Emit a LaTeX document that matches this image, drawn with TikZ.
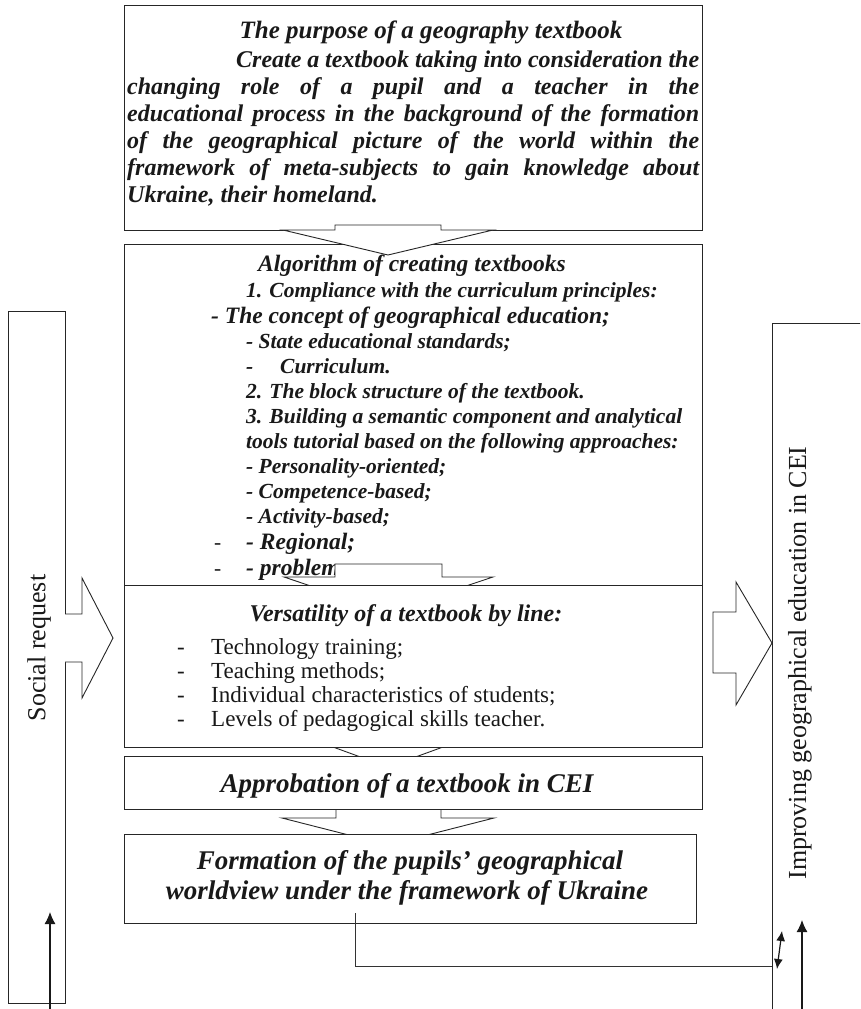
\documentclass[tikz,border=0pt]{standalone}
\usepackage{fontspec}
\setmainfont{Liberation Serif}
\usetikzlibrary{arrows.meta}
\begin{document}
\begin{tikzpicture}[x=1pt,y=-1pt,
  box/.style={draw=black!85, line width=1.3pt, fill=white, inner sep=0pt, anchor=north west},
  blk/.style={draw=black!85, line width=0.9pt, fill=white, line join=miter},
  thinline/.style={draw=black!80, line width=0.8pt},
  tx/.style={inner sep=0pt, anchor=base west, text=black!90},
  tc/.style={inner sep=0pt, anchor=base, text=black!90},
  bi/.style={font=\bfseries\itshape\fontsize{#1}{#1}\selectfont},
  rg/.style={font=\fontsize{#1}{#1}\selectfont},
  side/.style={inner sep=0pt, rotate=90, text=black!90, font=\fontsize{26}{26}\selectfont},
  tip/.style={line width=1.2pt, draw=black!90}]
\clip (0,0) rectangle (860,1009);

% boxes
\node[box, minimum width=578pt, minimum height=225pt] (purpose) at (124,5) {};
\node[box, minimum width=578pt, minimum height=341pt] (alg) at (124,244) {};
\node[box, minimum width=57pt, minimum height=692pt] (social) at (8,311) {};
\node[box, minimum width=120pt, minimum height=720pt] (improve) at (772,323) {};

% purpose text
\node[tc, bi=25] (ptitle) at (431,38) {The purpose of a geography textbook};
\node[tx, bi=24] (p1) at (236,67) {\makebox[463pt][s]{Create a textbook taking into consideration the}};
\node[tx, bi=24] (p2) at (127,94) {\makebox[572pt][s]{changing role of a pupil and a teacher in the}};
\node[tx, bi=24] (p3) at (127,121) {\makebox[572pt][s]{educational process in the background of the formation}};
\node[tx, bi=24] (p4) at (127,148) {\makebox[572pt][s]{of the geographical picture of the world within the}};
\node[tx, bi=24] (p5) at (127,175) {\makebox[572pt][s]{framework of meta-subjects to gain knowledge about}};
\node[tx, bi=24] (p6) at (127,202) {Ukraine, their homeland.};

% algorithm text
\node[tx, bi=23.5] (a0) at (258,271) {Algorithm of creating textbooks};
\node[tx, bi=21.5] (a1) at (246,297) {1. Compliance with the curriculum principles:};
\node[tx, bi=23.5] (a2) at (211,323) {- The concept of geographical education;};
\node[tx, bi=21.5] (a3) at (246,348) {- State educational standards;};
\node[tx, bi=21.5] (a4) at (246,373) {\makebox[34pt][l]{-}Curriculum.};
\node[tx, bi=21.5] (a5) at (246,398) {2. The block structure of the textbook.};
\node[tx, bi=21.5] (a6) at (246,423) {3. Building a semantic component and analytical};
\node[tx, bi=21.5] (a7) at (246,448) {tools tutorial based on the following approaches:};
\node[tx, bi=21.5] (a8) at (246,473) {- Personality-oriented;};
\node[tx, bi=21.5] (a9) at (246,498) {- Competence-based;};
\node[tx, bi=21.5] (a10) at (246,523) {- Activity-based;};
\node[tx, rg=21.5] (d11) at (214,549) {-};
\node[tx, bi=23.5] (a11) at (246,549) {- Regional;};
\node[tx, rg=21.5] (d12) at (214,575) {-};
\node[tx, bi=23.5] (a12) at (246,575) {- problem};

% block arrow purpose -> algorithm
\draw[blk] (335,225) -- (441,225) -- (441,230) -- (493,230) -- (388,255) -- (283,230) -- (335,230) -- cycle;
% block arrow algorithm -> versatility
\draw[blk] (335,564) -- (442,564) -- (442,577) -- (493,577) -- (388,612) -- (284,577) -- (335,577) -- cycle;
% block arrow versatility -> approbation
\draw[blk] (361,735) -- (415,735) -- (415,747) -- (443,747) -- (388,767) -- (333,747) -- (361,747) -- cycle;
% block arrow approbation -> formation
\draw[blk] (336,800) -- (441,800) -- (441,818) -- (494,818) -- (388,845) -- (282,818) -- (336,818) -- cycle;

\node[box, minimum width=578pt, minimum height=162pt] (vers) at (124,585) {};
\node[box, minimum width=578pt, minimum height=53pt] (approb) at (124,756) {};
\node[box, minimum width=572pt, minimum height=89pt] (form) at (124,834) {};

% versatility text
\node[tc, bi=24] (v0) at (406,621) {Versatility of a textbook by line:};
\node[tx, rg=23] (vd1) at (177,654) {-};
\node[tx, rg=23] (v1) at (211,654) {Technology training;};
\node[tx, rg=23] (vd2) at (177,678) {-};
\node[tx, rg=23] (v2) at (211,678) {Teaching methods;};
\node[tx, rg=23] (vd3) at (177,702) {-};
\node[tx, rg=23] (v3) at (211,702) {Individual characteristics of students;};
\node[tx, rg=23] (vd4) at (177,726) {-};
\node[tx, rg=23] (v4) at (211,726) {Levels of pedagogical skills teacher.};

\node[tc, bi=27] (apt) at (407,792) {Approbation of a textbook in CEI};
\node[tc, bi=27] (f1) at (410,869) {Formation of the pupils’ geographical};
\node[tc, bi=27] (f2) at (407,899) {worldview under the framework of Ukraine};

% side labels
\node[side] (soct) at (39,648) {Social request};
\node[side] (impt) at (800,663) {Improving geographical education in CEI};

% side block arrows
\draw[blk] (65,614) -- (82,614) -- (82,578) -- (113,638) -- (82,698) -- (82,662) -- (65,662);
\draw[blk] (713,612) -- (736,612) -- (736,582) -- (772,643) -- (736,705) -- (736,673) -- (713,673) -- cycle;

% bottom connectors
\coordinate (fs) at (355,913);
\coordinate (fc) at (355,966);
\coordinate (fe) at (improve.west |- fc);
\draw[thinline] (fs) -- (fc) -- (fe);
\coordinate (dbA) at (777,969);
\coordinate (dbB) at (782,931);
\draw[tip, {Latex[length=10pt,width=9pt]}-{Latex[length=10pt,width=9pt]}] (dbA) -- (dbB);
\coordinate (rb) at (802,1012);
\coordinate (rt) at (802,920);
\draw[tip, -{Latex[length=12pt,width=11pt]}] (rb) -- (rt);
\coordinate (lb) at (50,1012);
\coordinate (lt) at (50,912);
\draw[tip, -{Latex[length=12pt,width=11pt]}] (lb) -- (lt);
\end{tikzpicture}
\end{document}
